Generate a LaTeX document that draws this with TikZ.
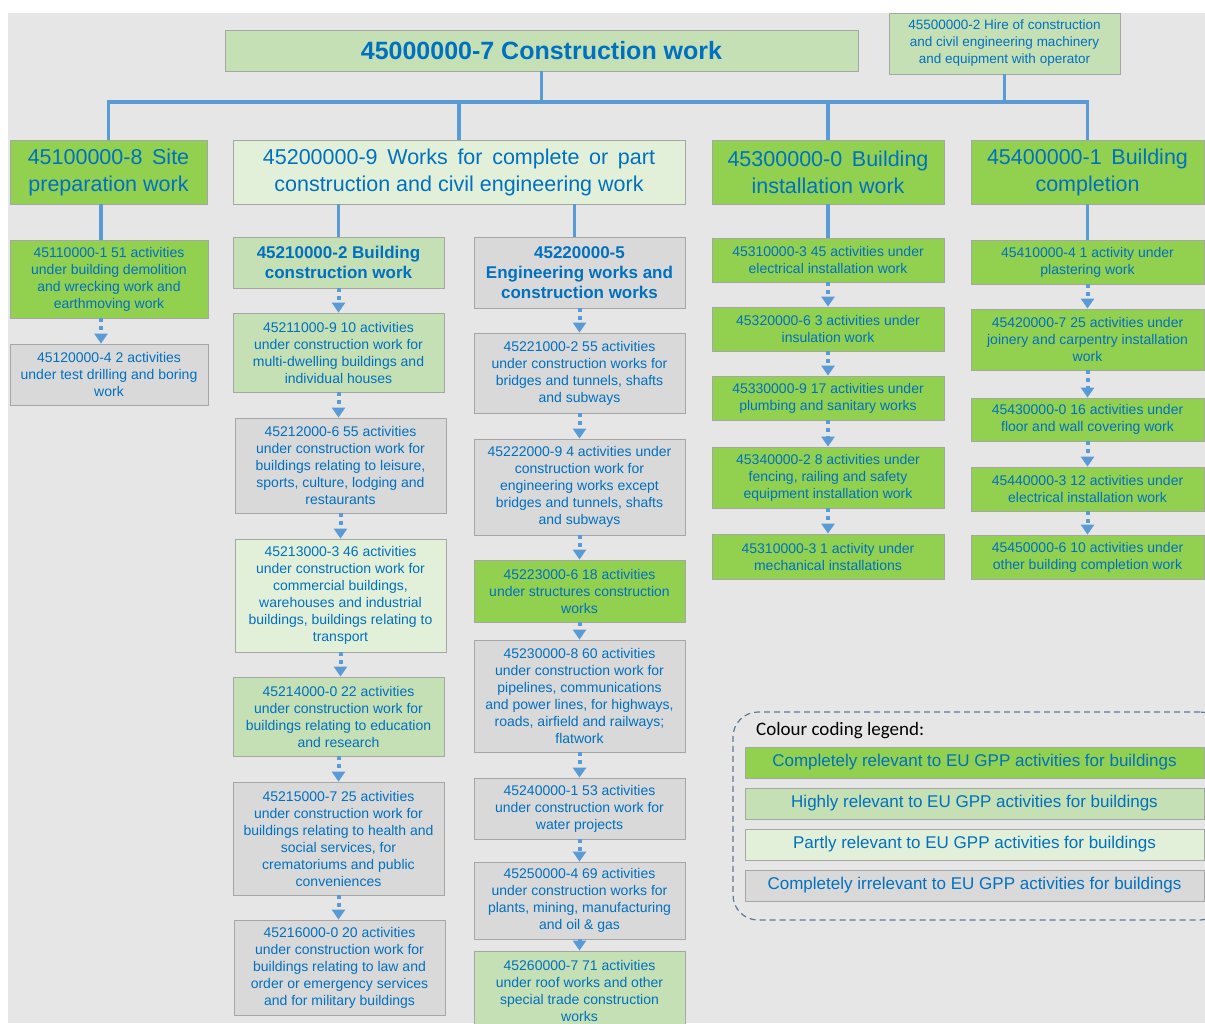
\documentclass[tikz,border=0pt]{standalone}
\usepackage{fontspec}
\setmainfont{Liberation Sans}
\newfontfamily\carlitofont{Carlito}
\usetikzlibrary{arrows.meta,calc}
\definecolor{bg}{HTML}{E7E6E6}
\definecolor{cgreen}{HTML}{92D050}
\definecolor{chigh}{HTML}{C5E0B4}
\definecolor{cpart}{HTML}{E2F0D9}
\definecolor{cgray}{HTML}{D9D9D9}
\definecolor{txt}{HTML}{0070C0}
\definecolor{conn}{HTML}{5B9BD5}
\definecolor{bord}{HTML}{A6A6A6}
\definecolor{legbord}{HTML}{5F7894}
\newcommand\widespaces{\spaceskip=0.45em\relax}
\begin{document}
\begin{tikzpicture}[x=1pt,y=-1pt,
  box/.style={draw=bord, line width=0.8pt, align=center, inner sep=0pt, text=txt},
  wh/.style 2 args={minimum width=#1pt, minimum height=#2pt},
  small/.style={box, font=\fontsize{14}{17}\selectfont},
  bolds/.style={box, font=\bfseries\fontsize{17}{20}\selectfont},
  lvlone/.style={box, font=\fontsize{21.5}{27}\selectfont},
  legbox/.style={box, font=\fontsize{17}{20}\selectfont, minimum width=459pt, minimum height=31pt},
  G/.style={fill=cgreen}, H/.style={fill=chigh}, P/.style={fill=cpart}, Y/.style={fill=cgray},
  solidline/.style={draw=conn, line width=3.5pt, line join=miter},
  darr/.style={draw=conn, line width=4pt, dash pattern=on 4pt off 4pt, -{Triangle[length=10pt,width=13pt]}},
]
\useasboundingbox (0,0) rectangle (1205,1023);
\fill[white] (0,0) rectangle (1205,1023);
\fill[bg] (8,13) rectangle (1205,1023);

% top level
\node[box, H, wh={633}{41}, font=\bfseries\fontsize{25}{30}\selectfont] (title) at (541.5,50.5) {45000000-7 Construction work};
\node[box, H, wh={231}{61}, font=\fontsize{13.5}{17}\selectfont] (hire) at (1004.5,43.5) {45500000-2 Hire of construction\\and civil engineering machinery\\and equipment with operator};

% level one
\node[lvlone, G, wh={197}{64}] (A) at (108.5,172) {\widespaces 45100000-8 Site\\preparation work};
\node[lvlone, P, wh={452}{64}] (B) at (459,172) {\widespaces 45200000-9 Works for complete or part\\construction and civil engineering work};
\node[lvlone, G, wh={232}{64}] (C) at (828,172) {\widespaces 45300000-0 Building\\installation work};
\node[lvlone, G, wh={233}{64}] (D) at (1087.5,172) {\widespaces 45400000-1 Building\\completion};

% column A
\node[small, G, wh={198}{78}] (A1) at (109,279) {45110000-1 51 activities\\under building demolition\\and wrecking work and\\earthmoving work};
\node[small, Y, wh={198}{61}] (A2) at (109,374.5) {45120000-4 2 activities\\under test drilling and boring\\work};

% column B1
\node[bolds, H, wh={211}{51}] (B1h) at (338.5,262.5) {45210000-2 Building\\construction work};
\node[small, H, wh={211}{79}] (B11) at (338.5,352.5) {45211000-9 10 activities\\under construction work for\\multi-dwelling buildings and\\individual houses};
\node[small, Y, wh={211}{95}] (B12) at (340.5,465.5) {45212000-6 55 activities\\under construction work for\\buildings relating to leisure,\\sports, culture, lodging and\\restaurants};
\node[small, P, wh={211}{113}] (B13) at (340.5,595.5) {45213000-3 46 activities\\under construction work for\\commercial buildings,\\warehouses and industrial\\buildings, buildings relating to\\transport};
\node[small, H, wh={211}{79}] (B14) at (338.5,716.5) {45214000-0 22 activities\\under construction work for\\buildings relating to education\\and research};
\node[small, Y, wh={211}{113}] (B15) at (338.5,838.5) {45215000-7 25 activities\\under construction work for\\buildings relating to health and\\social services, for\\crematoriums and public\\conveniences};
\node[small, Y, wh={211}{95}] (B16) at (339.5,967.5) {45216000-0 20 activities\\under construction work for\\buildings relating to law and\\order or emergency services\\and for military buildings};

% column B2
\node[bolds, Y, wh={211}{71}] (B2h) at (579.5,272.5) {45220000-5\\Engineering works and\\construction works};
\node[small, Y, wh={211}{80}] (B21) at (579.5,373) {45221000-2 55 activities\\under construction works for\\bridges and tunnels, shafts\\and subways};
\node[small, Y, wh={211}{96}] (B22) at (579.5,487) {45222000-9 4 activities under\\construction work for\\engineering works except\\bridges and tunnels, shafts\\and subways};
\node[small, G, wh={211}{62}] (B23) at (579.5,591) {45223000-6 18 activities\\under structures construction\\works};
\node[small, Y, wh={211}{112}] (B24) at (579.5,696) {45230000-8 60 activities\\under construction work for\\pipelines, communications\\and power lines, for highways,\\roads, airfield and railways;\\flatwork};
\node[small, Y, wh={211}{61}] (B25) at (579.5,808.5) {45240000-1 53 activities\\under construction work for\\water projects};
\node[small, Y, wh={211}{77}] (B26) at (579.5,900.5) {45250000-4 69 activities\\under construction works for\\plants, mining, manufacturing\\and oil \& gas};
\node[small, H, wh={211}{79}] (B27) at (579.5,990.5) {45260000-7 71 activities\\under roof works and other\\special trade construction\\works};

% column C
\node[small, G, wh={232}{44}] (C1) at (828,260) {45310000-3 45 activities under\\electrical installation work};
\node[small, G, wh={232}{44}] (C2) at (828,329) {45320000-6 3 activities under\\insulation work};
\node[small, G, wh={232}{44}] (C3) at (828,398) {45330000-9 17 activities under\\plumbing and sanitary works};
\node[small, G, wh={232}{61}] (C4) at (828,477.5) {45340000-2 8 activities under\\fencing, railing and safety\\equipment installation work};
\node[small, G, wh={232}{45}] (C5) at (828,556.5) {45310000-3 1 activity under\\mechanical installations};

% column D
\node[small, G, wh={233}{44}] (D1) at (1087.5,262) {45410000-4 1 activity under\\plastering work};
\node[small, G, wh={233}{61}] (D2) at (1087.5,339.5) {45420000-7 25 activities under\\joinery and carpentry installation\\work};
\node[small, G, wh={233}{43}] (D3) at (1087.5,419.5) {45430000-0 16 activities under\\floor and wall covering work};
\node[small, G, wh={233}{44}] (D4) at (1087.5,489) {45440000-3 12 activities under\\electrical installation work};
\node[small, G, wh={233}{44}] (D5) at (1087.5,557) {45450000-6 10 activities under\\other building completion work};

% tree connectors
\coordinate (bus) at (0,102);
\draw[solidline] (A.north) -- (A.north |- bus) -- (D.north |- bus) -- (D.north);
\draw[solidline] (title.south) -- (title.south |- bus);
\draw[solidline] (hire.south) -- (hire.south |- bus);
\draw[solidline] (B.north |- bus) -- (B.north);
\draw[solidline] (C.north |- bus) -- (C.north);

\draw[solidline] ([xshift=-7.5pt]A.south) -- ([xshift=-7.5pt]A.south |- A1.north);
\draw[solidline] (B1h.north |- B.south) -- (B1h.north);
\draw[solidline] ([xshift=-5pt]B2h.north |- B.south) -- ([xshift=-5pt]B2h.north);
\draw[solidline] (C.south) -- (C1.north);
\draw[solidline] (D.south) -- (D1.north);

% dotted arrows
\draw[darr] ([xshift=-8pt]A1.south) -- ([xshift=-8pt]A1.south |- A2.north);
\foreach \a/\b in {B1h/B11,B11/B12,B12/B13,B13/B14,B14/B15,B15/B16,
                   B2h/B21,B21/B22,B22/B23,B23/B24,B24/B25,B25/B26,B26/B27,
                   C1/C2,C2/C3,C3/C4,C4/C5,D1/D2,D2/D3,D3/D4,D4/D5}
  \draw[darr] (\a.south) -- (\a.south |- \b.north);

% legend
\node[draw=legbord, line width=1.2pt, dash pattern=on 6pt off 4pt, rounded corners=25pt,
      minimum width=492pt, minimum height=208pt, inner sep=0pt] (legend) at (979,816) {};
\node[anchor=base west, inner sep=0pt, font=\carlitofont\fontsize{19}{22}\selectfont] (legtitle) at (756,735) {Colour coding legend:};
\node[legbox, G] (L1) at (974.5,762.5) {Completely relevant to EU GPP activities for buildings};
\node[legbox, H] (L2) at (974.5,803.5) {Highly relevant to EU GPP activities for buildings};
\node[legbox, P] (L3) at (974.5,844.5) {Partly relevant to EU GPP activities for buildings};
\node[legbox, Y] (L4) at (974.5,885.5) {Completely irrelevant to EU GPP activities for buildings};
\end{tikzpicture}
\end{document}
